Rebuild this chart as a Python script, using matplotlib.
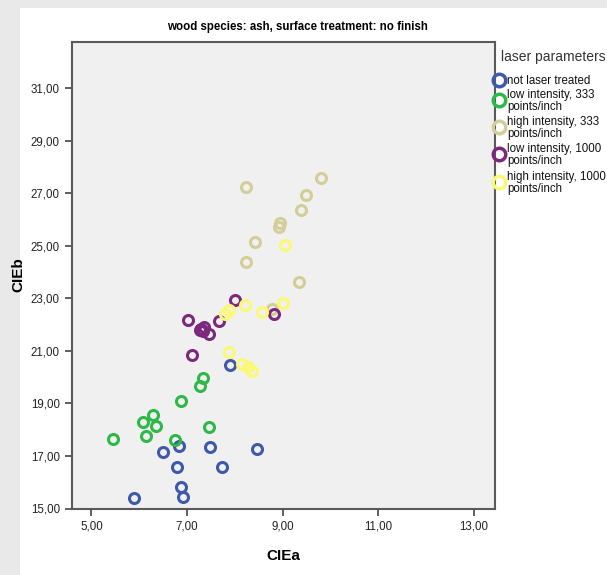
#!/usr/bin/env python3
"""CIEa vs CIEb scatter for ash, no finish, grouped by laser parameters."""

import matplotlib

matplotlib.use("Agg")
import matplotlib.pyplot as plt
from matplotlib.lines import Line2D
from matplotlib.patches import Rectangle
from matplotlib.ticker import FuncFormatter

plt.rcParams["font.family"] = ["Liberation Sans", "DejaVu Sans"]

GROUPS = [
    "not laser treated",
    "low intensity, 333\npoints/inch",
    "high intensity, 333\npoints/inch",
    "low intensity, 1000\npoints/inch",
    "high intensity, 1000\npoints/inch",
]
COLORS = ["#3e58ac", "#2eb848", "#d3ce97", "#7c287d", "#fbf873"]

not_treated_a = [5.89, 6.50, 6.83, 6.78, 6.88, 6.91, 7.48, 7.72, 8.47, 7.90]
not_treated_b = [15.39, 17.15, 17.38, 16.58, 15.81, 15.45, 17.34, 16.59, 17.26, 20.47]

low_333_a = [5.46, 6.07, 6.14, 6.29, 6.35, 6.75, 6.87, 7.27, 7.33, 7.45]
low_333_b = [17.65, 18.30, 17.77, 18.56, 18.13, 17.62, 19.10, 19.67, 19.96, 18.09]

high_333_a = [8.23, 9.80, 9.49, 9.38, 8.94, 8.93, 8.43, 8.23, 9.33, 8.78]
high_333_b = [27.26, 27.60, 26.95, 26.37, 25.89, 25.71, 25.16, 24.38, 23.64, 22.60]

low_1000_a = [7.02, 7.11, 7.26, 7.33, 7.36, 7.45, 7.67, 8.00, 8.82, 7.30]
low_1000_b = [22.18, 20.86, 21.80, 21.77, 21.91, 21.65, 22.16, 22.93, 22.40, 21.85]

high_1000_a = [7.79, 7.88, 8.21, 8.56, 9.01, 9.05, 7.87, 8.15, 8.27, 8.35]
high_1000_b = [22.40, 22.56, 22.75, 22.47, 22.82, 25.04, 20.96, 20.50, 20.38, 20.24]

SERIES_A = [not_treated_a, low_333_a, high_333_a, low_1000_a, high_1000_a]
SERIES_B = [not_treated_b, low_333_b, high_333_b, low_1000_b, high_1000_b]

X_TICKS = [5, 7, 9, 11, 13]
Y_TICKS = [15, 17, 19, 21, 23, 25, 27, 29, 31]

W, H = 607, 575


def comma_fmt(v, _pos):
    return f"{v:.2f}".replace(".", ",")


def main() -> None:
    fig = plt.figure(figsize=(W / 100, H / 100), dpi=100, facecolor="#e9e9e9")
    fig.add_artist(Rectangle((20 / W, 0), 1, (H - 8) / H, transform=fig.transFigure,
                             facecolor="white", edgecolor="none", zorder=0))

    ax = fig.add_axes([71.7 / W, 66.5 / H, 423.3 / W, 466.8 / H])
    ax.set_facecolor("#f0f0f0")
    for a, b, color in zip(SERIES_A, SERIES_B, COLORS):
        ax.plot(a, b, linestyle="none", marker="o", markersize=7.2,
                markerfacecolor="none", markeredgecolor=color, markeredgewidth=2.2)

    ax.set_xlim(4.586, 13.44)
    ax.set_ylim(15.0, 32.78)
    ax.set_xticks(X_TICKS)
    ax.set_yticks(Y_TICKS)
    ax.xaxis.set_major_formatter(FuncFormatter(comma_fmt))
    ax.yaxis.set_major_formatter(FuncFormatter(comma_fmt))
    ax.tick_params(direction="out", length=5, width=1.2, color="#444444",
                   labelsize=8.3, labelcolor="#222222")
    for spine in ax.spines.values():
        spine.set_color("#5a5a5a")
        spine.set_linewidth(1.5)

    ax.set_xlabel("CIEa", fontsize=11, fontweight="bold", labelpad=12)
    ax.set_ylabel("CIEb", fontsize=11, fontweight="bold", labelpad=4)
    fig.text(297 / W, 1 - 27 / H, "wood species: ash, surface treatment: no finish",
             ha="center", va="center", fontsize=8.3, fontweight="bold")

    # legend drawn by hand so it can run off the right edge like the original
    fig.text(501 / W, 1 - 57 / H, "laser parameters", ha="left", va="center",
             fontsize=10, color="#333333")
    marker_y = [80, 100, 127, 154, 182]
    for label, color, my in zip(GROUPS, COLORS, marker_y):
        fig.add_artist(Line2D([499 / W], [1 - my / H], transform=fig.transFigure,
                              marker="o", markersize=9, markerfacecolor="none",
                              markeredgecolor=color, markeredgewidth=2.5))
        fig.text(507 / W, 1 - (my + 1) / H, label, ha="left", va="center",
                 fontsize=8.3, color="#111111", linespacing=0.9)

    fig.savefig("out.png", dpi=100, facecolor=fig.get_facecolor())
    plt.close(fig)


if __name__ == "__main__":
    main()
